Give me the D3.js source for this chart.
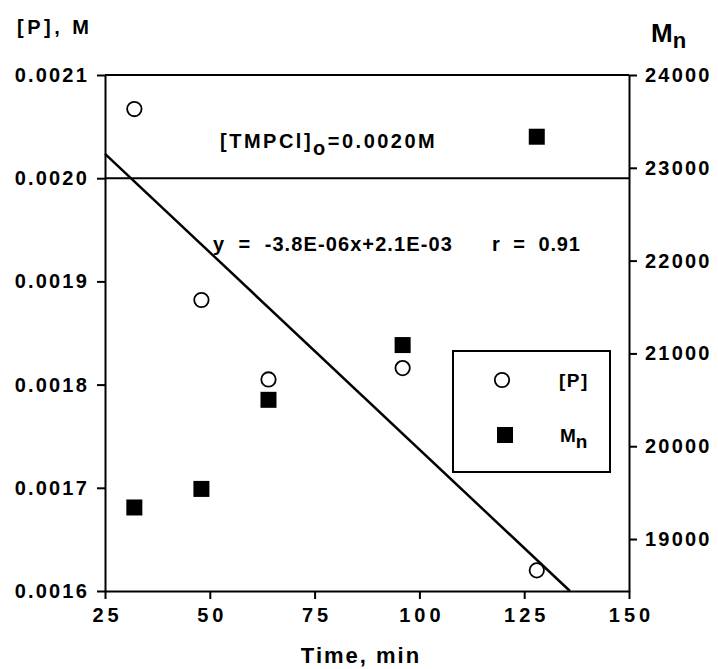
<!DOCTYPE html>
<html>
<head>
<meta charset="utf-8">
<script src="https://cdn.jsdelivr.net/npm/d3@7"></script>
<style>
  body { margin: 0; background: #fff; }
  svg text { font-family: "Liberation Sans", Arial, Helvetica, sans-serif; font-weight: bold; fill: #000; }
  .axis path, .axis line { stroke: #000; stroke-width: 2; }
  .axis text { font-size: 20px; letter-spacing: 2.2px; }
</style>
</head>
<body>
<svg id="chart" width="718" height="669"></svg>
<script>
// data
var times = [32, 48, 64, 96, 128];
var pValues = [0.002067, 0.001882, 0.001805, 0.001816, 0.001620];   // [P], M
var mnValues = [19340, 19540, 20500, 21090, 23335];                  // Mn
var timeTicks = [25, 50, 75, 100, 125, 150];
var pTicks = [0.0016, 0.0017, 0.0018, 0.0019, 0.0020, 0.0021];
var mnTicks = [19000, 20000, 21000, 22000, 23000, 24000];
var tmpclLevel = 0.0020;
var fitLabel = "y = -3.8E-06x+2.1E-03";
var rLabel = "r = 0.91";

(function () {
  var svg = d3.select("#chart");

  var left = 105, right = 629, top = 75, bottom = 591;

  var x = d3.scaleLinear().domain([25, 150]).range([left, right]);
  var yP = d3.scaleLinear().domain([0.0016, 0.0021]).range([bottom, top]);
  var yMn = d3.scaleLinear().domain([18440, 24000]).range([bottom, top]);

  // least squares fit of [P] vs time
  var mx = d3.mean(times), my = d3.mean(pValues);
  var sxy = d3.sum(times, function (t, i) { return (t - mx) * (pValues[i] - my); });
  var sxx = d3.sum(times, function (t) { return (t - mx) * (t - mx); });
  var slope = sxy / sxx;
  var icpt = my - slope * mx;

  // axes
  svg.append("g")
    .attr("class", "axis")
    .attr("transform", "translate(" + left + ",0)")
    .call(d3.axisLeft(yP).tickValues(pTicks).tickFormat(d3.format(".4f"))
      .tickSize(8).tickSizeOuter(0).tickPadding(8));

  svg.append("g")
    .attr("class", "axis")
    .attr("transform", "translate(" + right + ",0)")
    .call(d3.axisRight(yMn).tickValues(mnTicks).tickFormat(d3.format("d"))
      .tickSize(8).tickSizeOuter(0).tickPadding(8));

  var xAxis = svg.append("g")
    .attr("class", "axis")
    .attr("transform", "translate(0," + bottom + ")")
    .call(d3.axisBottom(x).tickValues(timeTicks).tickFormat(d3.format("d"))
      .tickSize(8).tickSizeOuter(0).tickPadding(9));
  xAxis.selectAll("text")
    .style("letter-spacing", "4px")
    .attr("dx", "2px");

  // top frame
  svg.append("line")
    .attr("x1", left).attr("x2", right)
    .attr("y1", top).attr("y2", top)
    .attr("stroke", "#000").attr("stroke-width", 2);

  // initial TMPCl level
  svg.append("line")
    .attr("x1", left).attr("x2", right)
    .attr("y1", yP(tmpclLevel)).attr("y2", yP(tmpclLevel))
    .attr("stroke", "#000").attr("stroke-width", 2);

  // regression line, clipped at bottom of the axis
  var xEnd = (0.0016 - icpt) / slope;
  svg.append("line")
    .attr("x1", x(25)).attr("y1", yP(icpt + slope * 25))
    .attr("x2", x(xEnd)).attr("y2", yP(0.0016))
    .attr("stroke", "#000").attr("stroke-width", 2.5);

  // Mn squares
  svg.selectAll(".mn")
    .data(times)
    .enter()
    .append("rect")
    .attr("class", "mn")
    .attr("x", function (d) { return x(d) - 8; })
    .attr("y", function (d, i) { return yMn(mnValues[i]) - 8; })
    .attr("width", 16).attr("height", 16)
    .attr("fill", "#000");

  // [P] circles
  svg.selectAll(".p")
    .data(times)
    .enter()
    .append("circle")
    .attr("class", "p")
    .attr("cx", function (d) { return x(d); })
    .attr("cy", function (d, i) { return yP(pValues[i]); })
    .attr("r", 7.2)
    .attr("fill", "#fff")
    .attr("stroke", "#000")
    .attr("stroke-width", 1.8);

  // axis titles
  svg.append("text")
    .attr("x", 17).attr("y", 34)
    .style("font-size", "20px").style("letter-spacing", "3.5px")
    .text("[P], M");

  var mnTitle = svg.append("text")
    .attr("x", 651).attr("y", 42)
    .style("font-size", "26px");
  mnTitle.append("tspan").text("M");
  mnTitle.append("tspan").attr("dy", 6).style("font-size", "22px").text("n");

  svg.append("text")
    .attr("x", (left + right) / 2 - 6).attr("y", 663)
    .attr("text-anchor", "middle")
    .style("font-size", "22px").style("letter-spacing", "2px")
    .text("Time, min");

  // annotations
  var tm = svg.append("text")
    .attr("x", 220).attr("y", 148)
    .style("font-size", "20px").style("letter-spacing", "2.5px");
  tm.append("tspan").text("[TMPCl]");
  tm.append("tspan").attr("dy", 7).text("o");
  tm.append("tspan").attr("dy", -7).text("=0.0020M");

  svg.append("text")
    .attr("x", 213).attr("y", 251)
    .style("font-size", "20px").style("letter-spacing", "1.1px")
    .style("white-space", "pre")
    .text(fitLabel.replace(/ = /, "  =  "));

  svg.append("text")
    .attr("x", 492).attr("y", 251)
    .style("font-size", "20px").style("letter-spacing", "0.8px")
    .style("white-space", "pre")
    .text(rLabel.replace(/ = /, "  =  "));

  // legend
  var lg = svg.append("g");
  lg.append("rect")
    .attr("x", 453).attr("y", 351)
    .attr("width", 157).attr("height", 121)
    .attr("fill", "#fff").attr("stroke", "#000").attr("stroke-width", 2);
  lg.append("circle")
    .attr("cx", 502).attr("cy", 380).attr("r", 7.2)
    .attr("fill", "#fff").attr("stroke", "#000").attr("stroke-width", 1.8);
  lg.append("rect")
    .attr("x", 497).attr("y", 427).attr("width", 16).attr("height", 16)
    .attr("fill", "#000");
  lg.append("text")
    .attr("x", 559).attr("y", 387)
    .style("font-size", "19px").style("letter-spacing", "1.5px")
    .text("[P]");
  var lm = lg.append("text")
    .attr("x", 560).attr("y", 442)
    .style("font-size", "19px");
  lm.append("tspan").text("M");
  lm.append("tspan").attr("dy", 6).style("font-size", "19px").text("n");
})();
</script>
</body>
</html>
